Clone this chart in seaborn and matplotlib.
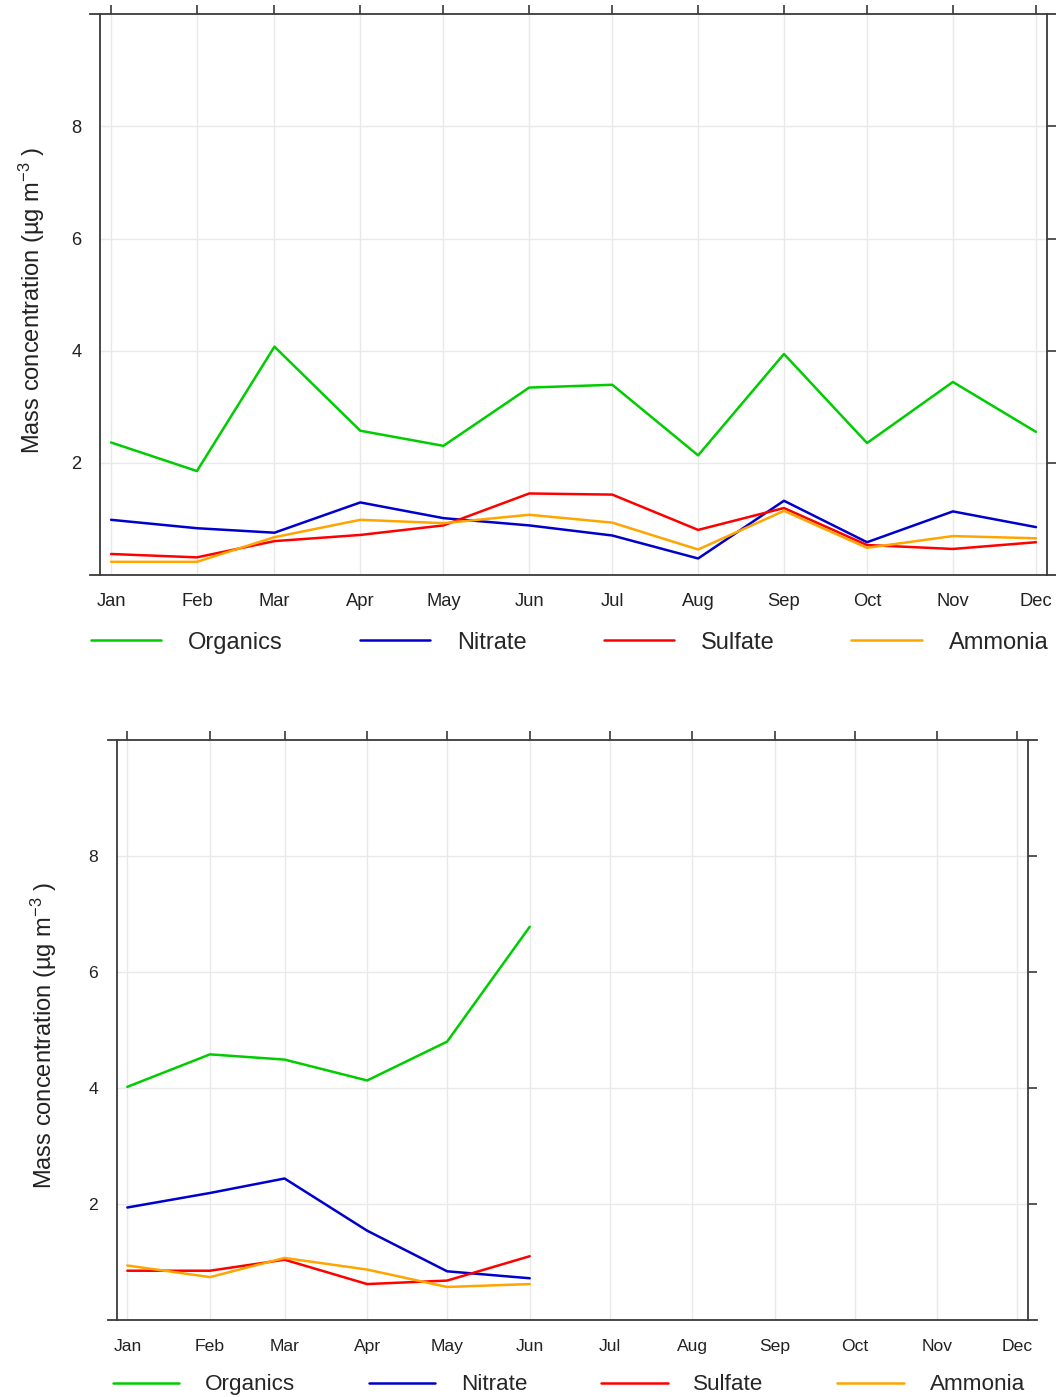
import pandas as pd
import matplotlib
matplotlib.use('Agg')
import matplotlib.pyplot as plt
import matplotlib.dates as mdates
import seaborn as sns

# month labels and the first day of each month (non-leap year)
months = ['Jan', 'Feb', 'Mar', 'Apr', 'May', 'Jun',
          'Jul', 'Aug', 'Sep', 'Oct', 'Nov', 'Dec']
month_dates = pd.date_range('2019-01-01', periods=12, freq='MS')
species = ['Organics', 'Nitrate', 'Sulfate', 'Ammonia']
colors = ['#00CD00', '#0000CD', '#FF0000', '#FFA500']
y_ticks = [2, 4, 6, 8]

# upper panel: full year
organics_a = [2.36, 1.85, 4.07, 2.57, 2.30, 3.34, 3.39, 2.13, 3.94, 2.35, 3.44, 2.55]
nitrate_a = [0.98, 0.83, 0.75, 1.29, 1.01, 0.88, 0.70, 0.29, 1.32, 0.58, 1.13, 0.85]
sulfate_a = [0.37, 0.31, 0.60, 0.71, 0.88, 1.45, 1.43, 0.80, 1.19, 0.53, 0.46, 0.58]
ammonia_a = [0.23, 0.23, 0.67, 0.98, 0.92, 1.07, 0.93, 0.45, 1.14, 0.48, 0.69, 0.65]

# lower panel: Jan - Jun only
organics_b = [4.02, 4.58, 4.49, 4.13, 4.80, 6.78]
nitrate_b = [1.94, 2.19, 2.44, 1.54, 0.84, 0.72]
sulfate_b = [0.85, 0.85, 1.04, 0.62, 0.68, 1.10]
ammonia_b = [0.94, 0.74, 1.07, 0.87, 0.57, 0.62]


def to_long(series):
    rows = []
    for name, vals in zip(species, series):
        for d, v in zip(month_dates, vals):
            rows.append({'date': d, 'value': v, 'species': name})
    return pd.DataFrame(rows)


df_a = to_long([organics_a, nitrate_a, sulfate_a, ammonia_a])
df_b = to_long([organics_b, nitrate_b, sulfate_b, ammonia_b])

sns.set_style('white')
plt.rcParams['font.family'] = ['Liberation Sans', 'DejaVu Sans']
plt.rcParams['mathtext.fontset'] = 'custom'
plt.rcParams['mathtext.rm'] = 'Liberation Sans'
plt.rcParams['mathtext.default'] = 'regular'

fig = plt.figure(figsize=(10.56, 13.97), dpi=100)
ax1 = fig.add_axes([0.0947, 0.5886, 0.8968, 0.4011])
ax2 = fig.add_axes([0.1105, 0.0551, 0.8630, 0.4152])

edge = '#3a3a3a'
palette = dict(zip(species, colors))


def draw(ax, df, tick_fs, leg_fs, label_x, legend_y, overhang):
    sns.lineplot(data=df, x='date', y='value', hue='species', hue_order=species,
                 palette=palette, linewidth=1.8, ax=ax)
    lo = month_dates[0] - pd.Timedelta(days=4)
    hi = month_dates[-1] + pd.Timedelta(days=4)
    ax.set_xlim(lo, hi)
    ax.set_ylim(0, 10)
    ax.set_xticks(month_dates)
    ax.set_xticklabels(months)
    ax.set_yticks(y_ticks)
    ax.set_yticklabels([str(t) for t in y_ticks])
    ax.set_xlabel('')
    ax.set_ylabel('Mass concentration (µg m$^{-3}$ )', fontsize=17, color='#222222')
    ax.yaxis.set_label_coords(label_x, 0.49)
    ax.grid(True, color='#e9e9e9', linewidth=1.0)
    ax.set_axisbelow(True)
    for s in ax.spines.values():
        s.set_visible(True)
        s.set_color(edge)
        s.set_linewidth(1.3)
    # horizontal frame lines run a little past the box, like the original
    lo_n = mdates.date2num(lo) - overhang
    hi_n = mdates.date2num(hi) + overhang
    ax.spines['bottom'].set_bounds(lo_n, hi_n)
    ax.spines['top'].set_bounds(lo_n, hi_n)
    ax.tick_params(axis='both', which='major', direction='out', length=6.5,
                   width=1.2, color=edge, top=True, right=True,
                   labeltop=False, labelright=False, labelsize=tick_fs,
                   labelcolor='#222222', pad=7)
    sns.move_legend(ax, 'center', bbox_to_anchor=(0.496, legend_y), ncol=4,
                    frameon=False, title=None, fontsize=leg_fs,
                    handlelength=2.97, handletextpad=1.14, columnspacing=3.26)


draw(ax1, df_a, 13.2, 17, -0.056, -0.121, 3.6)
draw(ax2, df_b, 12.6, 16.2, -0.063, -0.112, 3.4)

fig.savefig('out.png', dpi=100)
